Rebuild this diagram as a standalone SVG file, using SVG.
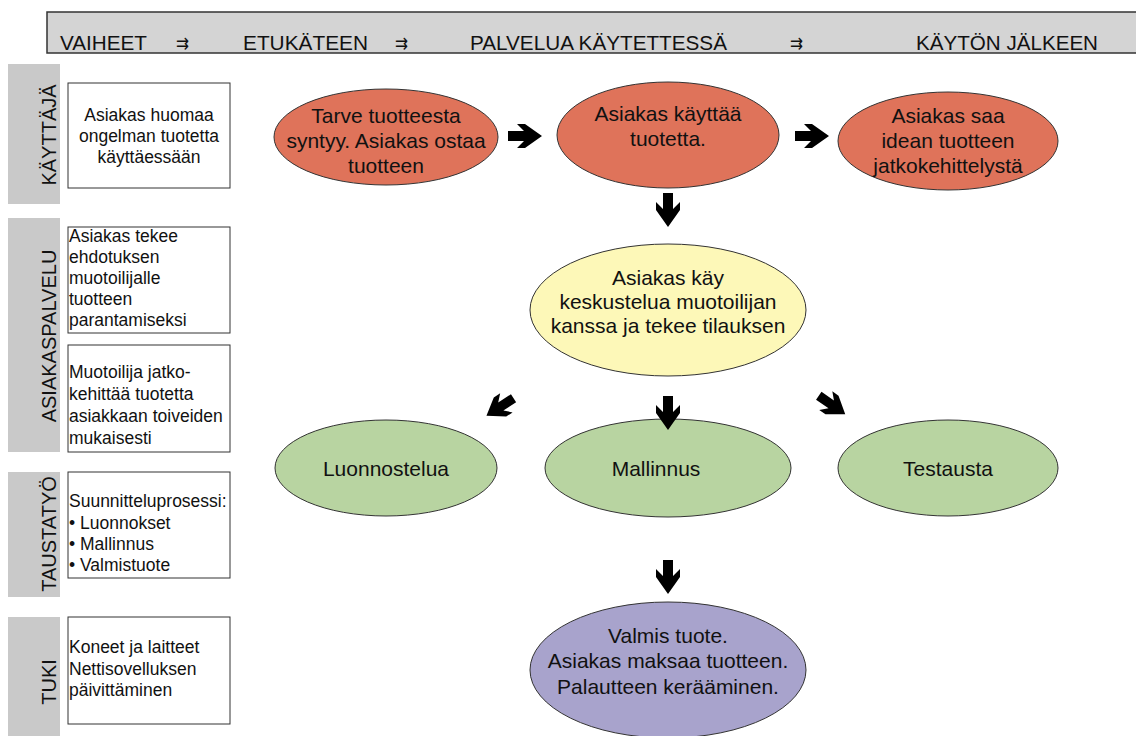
<svg xmlns="http://www.w3.org/2000/svg" xmlns:xlink="http://www.w3.org/1999/xlink" width="1136" height="736" viewBox="0 0 1136 736">
<style>
text{font-family:"Liberation Sans",Arial,sans-serif;fill:#111}
.hdr{font-size:20px}
.sym{font-family:"DejaVu Sans",sans-serif;font-size:17px}
.lane{fill:#c9c9c9}
.lbl{font-size:20px;text-anchor:middle}
.box{fill:#fff;stroke:#333;stroke-width:1}
.bt{font-size:17.5px}
.c{text-anchor:middle}
.el{stroke:#333;stroke-width:1}
.et{font-size:21px;text-anchor:middle}
.or{fill:#df735a}.ye{fill:#fdf8b8}.gr{fill:#b8d4a1}.pu{fill:#a8a3cc}
.arr{fill:#000}
</style>
<defs>
<path id="ar" d="M-17,-5 L-1,-5 L-8,-12 L0,-12 L17,0 L0,12 L-8,12 L-1,5 L-17,5 Z"/>
</defs>
<g id="header">
<rect x="47" y="12" width="1100" height="41" fill="#d4d4d4" stroke="#333" stroke-width="1.5"/>
<text class="hdr" x="60" y="50" textLength="87" lengthAdjust="spacingAndGlyphs">VAIHEET</text>
<text class="sym" x="176" y="49" textLength="13" lengthAdjust="spacingAndGlyphs">⇉</text>
<text class="hdr" x="243" y="50" textLength="125" lengthAdjust="spacingAndGlyphs">ETUKÄTEEN</text>
<text class="sym" x="395" y="49" textLength="13" lengthAdjust="spacingAndGlyphs">⇉</text>
<text class="hdr" x="470" y="50" textLength="257" lengthAdjust="spacingAndGlyphs">PALVELUA KÄYTETTESSÄ</text>
<text class="sym" x="790" y="49" textLength="13" lengthAdjust="spacingAndGlyphs">⇉</text>
<text class="hdr" x="916" y="50" textLength="182" lengthAdjust="spacingAndGlyphs">KÄYTÖN JÄLKEEN</text>
</g>
<g id="lane-kayttaja">
<rect class="lane" x="8" y="64" width="52" height="140"/>
<text class="lbl" transform="translate(56,135) rotate(-90)">KÄYTTÄJÄ</text>
</g>
<g id="lane-asiakaspalvelu">
<rect class="lane" x="8" y="218" width="52" height="234"/>
<text class="lbl" transform="translate(56,336) rotate(-90)">ASIAKASPALVELU</text>
</g>
<g id="lane-taustatyo">
<rect class="lane" x="8" y="472" width="52" height="125"/>
<text class="lbl" transform="translate(56,534) rotate(-90)">TAUSTATYÖ</text>
</g>
<g id="lane-tuki">
<rect class="lane" x="8" y="617" width="52" height="119"/>
<text class="lbl" transform="translate(56,682) rotate(-90)">TUKI</text>
</g>
<g id="box1">
<rect class="box" x="68" y="83" width="162" height="105"/>
<text class="bt c" x="149" y="121">Asiakas huomaa</text>
<text class="bt c" x="149" y="142">ongelman tuotetta</text>
<text class="bt c" x="149" y="163">käyttäessään</text>
</g>
<g id="box2">
<rect class="box" x="68" y="227" width="162" height="106"/>
<text class="bt" x="69" y="242">Asiakas tekee</text>
<text class="bt" x="69" y="263">ehdotuksen</text>
<text class="bt" x="69" y="284">muotoilijalle</text>
<text class="bt" x="69" y="305">tuotteen</text>
<text class="bt" x="69" y="326">parantamiseksi</text>
</g>
<g id="box3">
<rect class="box" x="68" y="345" width="162" height="107"/>
<text class="bt" x="69" y="378">Muotoilija jatko-</text>
<text class="bt" x="69" y="400">kehittää tuotetta</text>
<text class="bt" x="69" y="422">asiakkaan toiveiden</text>
<text class="bt" x="69" y="444">mukaisesti</text>
</g>
<g id="box4">
<rect class="box" x="68" y="472" width="162" height="106"/>
<text class="bt" x="69" y="507">Suunnitteluprosessi:</text>
<text class="bt" x="69" y="529">• Luonnokset</text>
<text class="bt" x="69" y="550">• Mallinnus</text>
<text class="bt" x="69" y="571">• Valmistuote</text>
</g>
<g id="box5">
<rect class="box" x="68" y="617" width="162" height="107"/>
<text class="bt" x="69" y="653">Koneet ja laitteet</text>
<text class="bt" x="69" y="675">Nettisovelluksen</text>
<text class="bt" x="69" y="696">päivittäminen</text>
</g>
<g id="e-tarve">
<ellipse class="el or" cx="386" cy="137" rx="112" ry="48"/>
<text class="et" x="386" y="123">Tarve tuotteesta</text>
<text class="et" x="386" y="148">syntyy. Asiakas ostaa</text>
<text class="et" x="386" y="173">tuotteen</text>
</g>
<g id="e-kayttaa">
<ellipse class="el or" cx="668" cy="135" rx="111" ry="53"/>
<text class="et" x="668" y="121">Asiakas käyttää</text>
<text class="et" x="668" y="146">tuotetta.</text>
</g>
<g id="e-idea">
<ellipse class="el or" cx="948" cy="141" rx="110" ry="49"/>
<text class="et" x="948" y="123">Asiakas saa</text>
<text class="et" x="948" y="148">idean tuotteen</text>
<text class="et" x="948" y="173">jatkokehittelystä</text>
</g>
<g id="e-keskustelu">
<ellipse class="el ye" cx="668" cy="310" rx="138" ry="66"/>
<text class="et" x="668" y="285">Asiakas käy</text>
<text class="et" x="668" y="309">keskustelua muotoilijan</text>
<text class="et" x="668" y="333">kanssa ja tekee tilauksen</text>
</g>
<g id="e-luonnostelua">
<ellipse class="el gr" cx="386" cy="468" rx="111" ry="48"/>
<text class="et" x="386" y="476">Luonnostelua</text>
</g>
<g id="e-mallinnus">
<ellipse class="el gr" cx="668" cy="468" rx="123" ry="49"/>
<text class="et" x="656" y="476">Mallinnus</text>
</g>
<g id="e-testausta">
<ellipse class="el gr" cx="948" cy="468" rx="110" ry="48"/>
<text class="et" x="948" y="476">Testausta</text>
</g>
<g id="e-valmis">
<ellipse class="el pu" cx="668" cy="670" rx="138" ry="68"/>
<text class="et" x="668" y="643">Valmis tuote.</text>
<text class="et" x="668" y="668">Asiakas maksaa tuotteen.</text>
<text class="et" x="668" y="694">Palautteen kerääminen.</text>
</g>
<g id="connectors" class="arr">
<use xlink:href="#ar" transform="translate(525,136)"/>
<use xlink:href="#ar" transform="translate(812,136)"/>
<use xlink:href="#ar" transform="translate(668,210) rotate(90)"/>
<use xlink:href="#ar" transform="translate(668,413) rotate(90)"/>
<use xlink:href="#ar" transform="translate(668,577) rotate(90)"/>
<use xlink:href="#ar" transform="translate(500,407) rotate(147) scale(0.95)"/>
<use xlink:href="#ar" transform="translate(832,405) rotate(35) scale(0.95)"/>
</g>
</svg>
